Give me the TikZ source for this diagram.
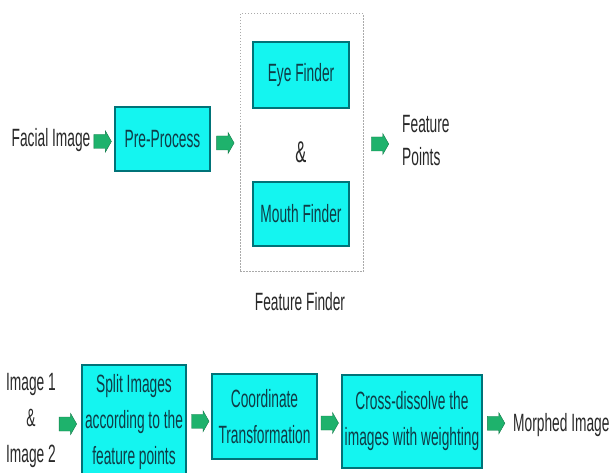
\documentclass[tikz,border=0pt]{standalone}
\usepackage{fontspec}
\setmainfont{Liberation Sans}[FakeStretch=0.55]
\usetikzlibrary{calc}

\definecolor{boxfill}{RGB}{20,245,240}
\definecolor{boxline}{RGB}{0,115,120}
\definecolor{boxtext}{RGB}{15,60,70}
\definecolor{labeltext}{RGB}{40,40,40}
\definecolor{flowgreen}{RGB}{30,178,108}
\definecolor{groupline}{RGB}{170,170,170}

\begin{document}
\begin{tikzpicture}[x=1pt,y=-1pt,
  stage/.style={draw=boxline, line width=1.4pt, fill=boxfill, text=boxtext,
    align=center, inner sep=0pt, font=\fontsize{25}{36}\selectfont},
  plaintext/.style={text=labeltext, inner sep=0pt, font=\fontsize{25}{36}\selectfont},
  groupbox/.style={draw=groupline, line width=1pt, dash pattern=on 1.5pt off 1.5pt,
    inner sep=0pt},
  flow/.pic={\fill[flowgreen, draw=flowgreen!70!black, line width=0.4pt]
    (-8.5,-7) -- (3,-7) -- (3,-10.5) -- (9,0) -- (3,10.5) -- (3,7) -- (-8.5,7) -- cycle;}
]
\useasboundingbox (0,0) rectangle (611,473);
\clip (0,0) rectangle (611,473);

% ---- feature detection stage ----
\node[plaintext] (facial) at (51,140) {Facial Image};
\node[stage, minimum width=95, minimum height=64] (pre) at (162.5,139) {Pre-Process};
\node[groupbox, minimum width=123, minimum height=258] (finder) at (301.5,143) {};
\node[stage, minimum width=96, minimum height=66] (eye) at (301,75) {Eye Finder};
\node[plaintext, font=\fontsize{30}{36}\selectfont] (amp) at (301,152) {\&};
\node[stage, minimum width=96, minimum height=64] (mouth) at (301,214) {Mouth Finder};
\node[plaintext] (findername) at (300,302) {Feature Finder};
\node[plaintext, align=left, anchor=west, font=\fontsize{25}{33}\selectfont]
  (points) at (402,141) {Feature\\Points};

\pic at ($(facial.east)!0.5!(pre.west)+(0,2)$) {flow};
\pic at ($(pre.east)!0.5!(finder.west)+(0,2)$) {flow};
\pic at ($(finder.east)!0.5!(points.west)+(-3,2)$) {flow};

% ---- morphing stage ----
\node[plaintext, align=center] (inputs) at (31,420) {Image 1\\\&\\Image 2};
\node[stage, minimum width=104, minimum height=114] (split) at (134,422)
  {Split Images\\according to the\\feature points};
\node[stage, minimum width=105, minimum height=85] (coord) at (264.5,416.5)
  {Coordinate\\Transformation};
\node[stage, minimum width=140, minimum height=93] (cross) at (412,421.5)
  {Cross-dissolve the\\images with weighting};
\node[plaintext, anchor=west] (morphed) at (513,425) {Morphed Image};

\pic at ($(inputs.east)!0.5!(split.west)+(-1,3)$) {flow};
\pic at ($(split.east)!0.5!(coord.west)+(1,2)$) {flow};
\pic at ($(coord.east)!0.5!(cross.west)+(0,4)$) {flow};
\pic at ($(cross.east)!0.5!(morphed.west)+(-2,0)$) {flow};
\end{tikzpicture}
\end{document}
